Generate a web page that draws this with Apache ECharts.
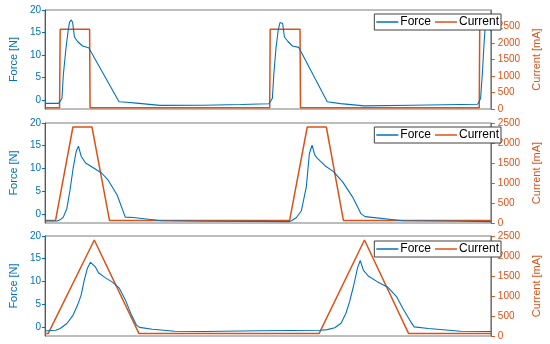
<!DOCTYPE html>
<html><head><meta charset="utf-8">
<script src="https://cdn.jsdelivr.net/npm/echarts@6/dist/echarts.min.js"></script>
<style>html,body{margin:0;padding:0;background:#fff}#c{width:550px;height:344px}</style>
</head><body><div id="c"></div>
<script>
// ---- Data (time in s, force in N, current in mA) ----
const p1Time  = [0,0.30,0.34,0.38,0.41,0.47,0.52,0.55,0.59,0.62,0.66,0.73,0.84,0.98,1.01,1.66,1.83,2.05,2.58,3.54,4.39,5.02,5.06,5.10,5.13,5.18,5.23,5.27,5.30,5.33,5.37,5.45,5.55,5.69,5.72,6.33,6.63,7.16,8.23,9.70,9.73,9.77,9.81,9.85,9.88,9.91,9.95,10.0];
const p1Force = [-0.75,-0.75,-0.3,0.4,5.5,11.5,15.5,17.3,17.8,17.2,14.0,13.0,12.0,11.6,11.3,-0.4,-0.5,-0.7,-1.2,-1.15,-1.0,-0.85,-0.3,0.4,5.5,11.5,15.5,17.2,17.6,17.0,14.0,13.0,12.0,11.7,11.4,-0.4,-0.8,-1.3,-1.15,-0.95,-0.5,0.4,6,13,17.0,17.5,16.5,15.3];
const p1CurTime = [0,0.326,0.34,1.0,1.01,5.04,5.05,5.72,5.73,9.74,9.75,10];
const p1Current = [40,40,2420,2420,40,40,2420,2420,40,40,2420,2420];

const p2Time  = [0,0.27,0.34,0.41,0.49,0.56,0.63,0.70,0.75,0.81,0.91,1.09,1.27,1.41,1.62,1.80,1.98,2.62,3.55,4.83,5.47,5.53,5.64,5.75,5.86,5.93,5.99,6.05,6.11,6.28,6.47,6.68,6.90,7.09,7.18,8.03,9.32,10.0];
const p2Force = [-1.56,-1.56,-1.3,-0.7,1.2,5.2,10,13.8,14.9,12.7,11.2,10.1,9.0,7.5,4.1,-0.7,-0.8,-1.5,-1.6,-1.65,-1.7,-1.5,-0.8,0.7,5.9,13.3,15.1,13.0,12.2,10.6,9.3,7.0,3.7,0.0,-0.6,-1.5,-1.6,-1.7];
const p2CurTime = [0,0.235,0.626,1.053,1.447,5.485,5.882,6.31,6.694,10];
const p2Current = [60,60,2400,2400,60,60,2400,2400,60,60];

const p3Time  = [0,0.13,0.24,0.34,0.49,0.63,0.73,0.81,0.88,0.95,1.02,1.05,1.13,1.20,1.34,1.52,1.66,1.80,1.94,2.05,2.12,2.41,2.91,3.55,4.83,6.18,6.33,6.50,6.64,6.75,6.83,6.92,7.01,7.07,7.14,7.25,7.46,7.68,7.89,8.03,8.18,8.28,8.60,9.32,10.0];
const p3Force = [-0.9,-0.8,-0.75,-0.35,0.75,2.6,4.8,7.0,10.3,12.9,14.2,14.5,13.2,11.9,10.9,9.8,8.6,6.0,2.6,0.4,-0.1,-0.5,-0.95,-1.0,-0.85,-0.75,-0.6,-0.2,0.8,3.0,5.5,9.0,13.0,14.6,12.5,11.2,9.9,8.8,6.6,4.0,1.5,0.0,-0.35,-0.95,-1.0];
const p3CurTime = [0,0.07,1.105,2.109,6.147,7.165,8.156,10];
const p3Current = [60,60,2400,60,60,2400,60,60];

const forceTicks = [0,5,10,15,20];
const currentTicks = [0,500,1000,1500,2000,2500];
const currentMax = [3000,2500,2500];

const BLUE = '#0072BD', ORANGE = '#D95319';
const zip = (a,b) => a.map((v,i)=>[v,b[i]]);
const panels = [
  {t:p1Time,f:p1Force,ct:p1CurTime,c:p1Current},
  {t:p2Time,f:p2Force,ct:p2CurTime,c:p2Current},
  {t:p3Time,f:p3Force,ct:p3CurTime,c:p3Current}
];
const gridPos = [{top:10,height:99},{top:123,height:100},{top:236,height:100}];
const legendTop = [14,127,241];

const grid=[],xAxis=[],yAxis=[],series=[],legend=[];
panels.forEach((p,i)=>{
  grid.push({left:34,right:48,top:gridPos[i].top,height:gridPos[i].height,show:true,borderColor:'#7a7a7a',borderWidth:1,backgroundColor:'#fff'});
  xAxis.push({type:'value',gridIndex:i,min:0,max:10,axisLine:{show:false},axisTick:{show:false},axisLabel:{show:false},splitLine:{show:false}});
  yAxis.push({type:'value',gridIndex:i,position:'left',min:-2,max:20,
    axisLine:{show:true,lineStyle:{color:BLUE,width:1}},
    axisTick:{show:true,length:3,customValues:forceTicks,lineStyle:{color:BLUE}},
    axisLabel:{customValues:forceTicks,color:BLUE,fontSize:10,margin:4,fontFamily:'Liberation Sans',formatter:v=>String(v)},
    splitLine:{show:false},
    name:'Force [N]',nameLocation:'middle',nameRotate:90,nameGap:16,
    nameTextStyle:{color:BLUE,fontSize:11,fontFamily:'Liberation Sans'}});
  yAxis.push({type:'value',gridIndex:i,position:'right',min:0,max:currentMax[i],
    axisLine:{show:true,lineStyle:{color:ORANGE,width:1}},
    axisTick:{show:true,length:4,customValues:currentTicks,lineStyle:{color:ORANGE}},
    axisLabel:{customValues:currentTicks,color:ORANGE,fontSize:10,margin:7,fontFamily:'Liberation Sans',formatter:v=>String(v)},
    splitLine:{show:false},
    name:'Current [mA]',nameLocation:'middle',nameRotate:90,nameGap:32,
    nameTextStyle:{color:ORANGE,fontSize:11,fontFamily:'Liberation Sans'}});
  series.push({name:'Current',type:'line',xAxisIndex:i,yAxisIndex:2*i+1,data:zip(p.ct,p.c),
    symbol:'none',z:2,lineStyle:{color:ORANGE,width:1.5},itemStyle:{color:ORANGE},animation:false});
  series.push({name:'Force',type:'line',xAxisIndex:i,yAxisIndex:2*i,data:zip(p.t,p.f),
    symbol:'none',z:3,lineStyle:{color:BLUE,width:1.1},itemStyle:{color:BLUE},animation:false});
  legend.push({data:[{name:'Force',icon:'rect'},{name:'Current',icon:'rect'}],right:49,top:legendTop[i],orient:'horizontal',
    backgroundColor:'#fff',borderColor:'#404040',borderWidth:1,borderRadius:0,
    padding:[2,2,2,2],itemWidth:22,itemHeight:1.5,itemGap:4,selectedMode:false,
    textStyle:{fontSize:12,color:'#000',fontFamily:'Liberation Sans',padding:[0,0,0,-3]}});
});

const chart = echarts.init(document.getElementById('c'),null,{renderer:'canvas'});
chart.setOption({animation:false,backgroundColor:'#fff',textStyle:{fontFamily:'Liberation Sans'},grid,xAxis,yAxis,series,legend});
</script></body></html>
